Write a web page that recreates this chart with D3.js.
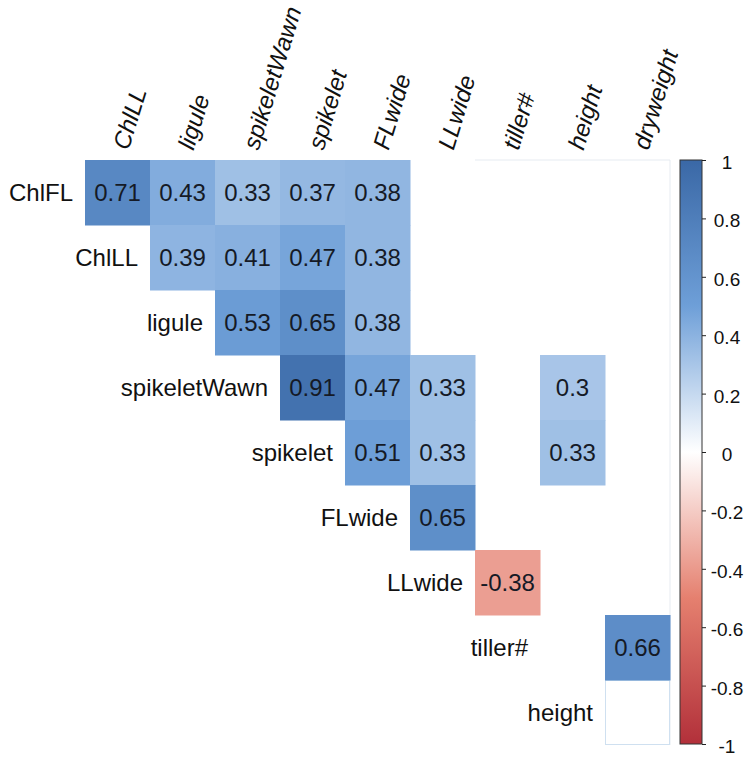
<!DOCTYPE html>
<html lang="en">
  <head>
    <meta charset="utf-8" />
    <title>Trait correlations</title>
    <script src="https://d3js.org/d3.v7.min.js"></script>
    <style>
      body { margin: 0; background: #fff; }
      text { font-family: "Liberation Sans", Arial, sans-serif; }
      .domain { display: none; }
    </style>
  </head>
  <body>
    <svg width="750" height="759"></svg>
    <script type="text/javascript">
      const rowNames = ["ChlFL", "ChlLL", "ligule", "spikeletWawn", "spikelet", "FLwide", "LLwide", "tiller#", "height"];
      const colNames = ["ChlLL", "ligule", "spikeletWawn", "spikelet", "FLwide", "LLwide", "tiller#", "height", "dryweight"];

      // [row, column, r]  (blank = not significant)
      const cells = [
        ["ChlFL", "ChlLL", 0.71], ["ChlFL", "ligule", 0.43], ["ChlFL", "spikeletWawn", 0.33],
        ["ChlFL", "spikelet", 0.37], ["ChlFL", "FLwide", 0.38],
        ["ChlLL", "ligule", 0.39], ["ChlLL", "spikeletWawn", 0.41], ["ChlLL", "spikelet", 0.47],
        ["ChlLL", "FLwide", 0.38],
        ["ligule", "spikeletWawn", 0.53], ["ligule", "spikelet", 0.65], ["ligule", "FLwide", 0.38],
        ["spikeletWawn", "spikelet", 0.91], ["spikeletWawn", "FLwide", 0.47],
        ["spikeletWawn", "LLwide", 0.33], ["spikeletWawn", "height", 0.3],
        ["spikelet", "FLwide", 0.51], ["spikelet", "LLwide", 0.33], ["spikelet", "height", 0.33],
        ["FLwide", "LLwide", 0.65],
        ["LLwide", "tiller#", -0.38],
        ["tiller#", "dryweight", 0.66],
      ];
      // cell drawn as empty frame
      const frameCells = [["height", "dryweight"]];

      const legendTicks = [1, 0.8, 0.6, 0.4, 0.2, 0, -0.2, -0.4, -0.6, -0.8, -1];
      const paletteStops = [-1, -0.5, 0, 0.5, 1];
      const paletteColours = ["#b2303a", "#e5806f", "#ffffff", "#6e9fd8", "#3a68a6"];

      const svg = d3.select("svg");

      const x = d3.scaleBand().domain(colNames).range([85, 670]);
      const y = d3.scaleBand().domain(rowNames).range([160, 745]);
      const colour = d3.scaleLinear().domain(paletteStops).range(paletteColours);

      // faint outline of the upper triangle
      svg.append("path")
        .attr("d", `M${x("tiller#")},${y("ChlFL")}H${x.range()[1]}V${y.range()[1]}`)
        .attr("fill", "none")
        .attr("stroke", "#e6ebf1")
        .attr("stroke-width", 1);

      svg.append("g")
        .selectAll("rect")
        .data(frameCells)
        .join("rect")
        .attr("x", (d) => x(d[1]) + 0.5)
        .attr("y", (d) => y(d[0]) + 0.5)
        .attr("width", x.bandwidth() - 1)
        .attr("height", y.bandwidth() - 1)
        .attr("fill", "#fff")
        .attr("stroke", "#cfe0f0");

      svg.append("g")
        .selectAll("rect")
        .data(cells)
        .join("rect")
        .attr("x", (d) => x(d[1]))
        .attr("y", (d) => y(d[0]))
        .attr("width", x.bandwidth() + 0.5)
        .attr("height", y.bandwidth() + 0.5)
        .attr("fill", (d) => colour(d[2]));

      svg.append("g")
        .selectAll("text")
        .data(cells)
        .join("text")
        .attr("x", (d) => x(d[1]) + x.bandwidth() / 2)
        .attr("y", (d) => y(d[0]) + y.bandwidth() / 2)
        .attr("text-anchor", "middle")
        .attr("dominant-baseline", "central")
        .attr("font-size", "24px")
        .attr("fill", "#151a26")
        .text((d) => String(d[2]));

      // row labels, just left of each row's first cell
      svg.append("g")
        .selectAll("text")
        .data(rowNames)
        .join("text")
        .attr("x", (d, i) => x(colNames[i]) - 12)
        .attr("y", (d) => y(d) + y.bandwidth() / 2)
        .attr("text-anchor", "end")
        .attr("dominant-baseline", "central")
        .attr("font-size", "24px")
        .attr("fill", "#111")
        .text((d) => d);

      // column labels, rotated
      svg.append("g")
        .selectAll("text")
        .data(colNames)
        .join("text")
        .attr("transform", (d) => `translate(${x(d) + x.bandwidth() / 2 + 11},${y.range()[0] - 9}) rotate(-73)`)
        .attr("text-anchor", "start")
        .attr("font-size", "24px")
        .attr("font-style", "italic")
        .attr("fill", "#111")
        .text((d) => d);

      // colour legend
      const legY = d3.scaleLinear().domain([-1, 1]).range([744, 160]);
      const legX = 680, legW = 22;
      const grad = svg.append("defs").append("linearGradient")
        .attr("id", "legend-grad")
        .attr("x1", 0).attr("y1", 1).attr("x2", 0).attr("y2", 0);
      grad.selectAll("stop")
        .data(paletteStops)
        .join("stop")
        .attr("offset", (d) => (d + 1) / 2)
        .attr("stop-color", (d) => colour(d));

      svg.append("rect")
        .attr("x", legX)
        .attr("y", legY(1))
        .attr("width", legW)
        .attr("height", legY(-1) - legY(1))
        .attr("fill", "url(#legend-grad)")
        .attr("stroke", "#333")
        .attr("stroke-width", 1);

      const legAxis = svg.append("g")
        .attr("transform", `translate(${legX + legW},0)`)
        .call(d3.axisRight(legY)
          .tickValues(legendTicks)
          .tickSize(4)
          .tickFormat((d) => String(+d.toFixed(1))));
      legAxis.selectAll(".tick line").attr("stroke", "#222");
      legAxis.selectAll(".tick text")
        .attr("x", 25)
        .attr("dy", "0.45em")
        .attr("text-anchor", "middle")
        .attr("font-size", "19px")
        .attr("font-family", "Liberation Sans, Arial, sans-serif")
        .attr("fill", "#111");
    </script>
  </body>
</html>
